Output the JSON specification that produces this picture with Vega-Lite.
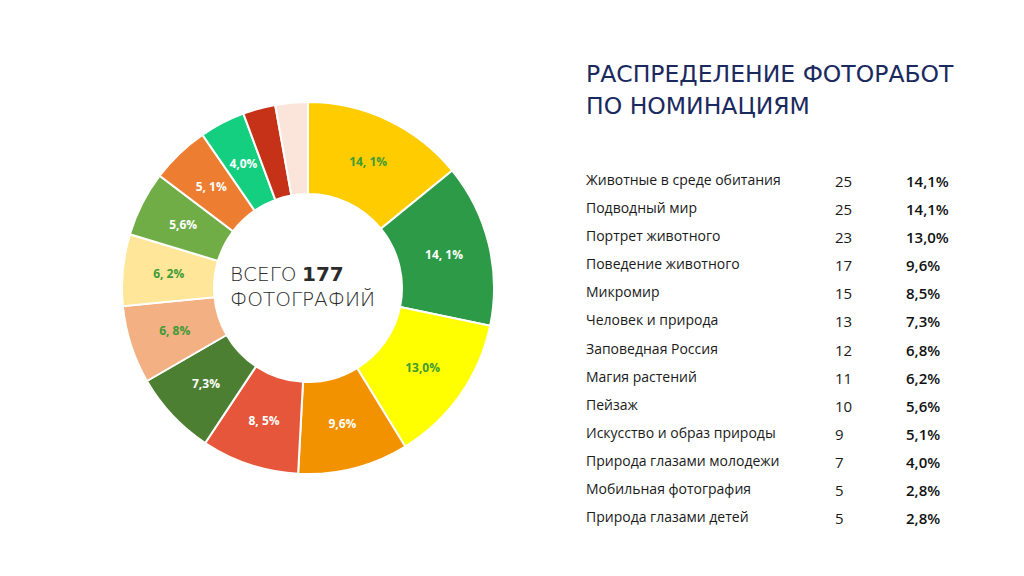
{
  "$schema": "https://vega.github.io/schema/vega-lite/v6.json",
  "description": "Распределение фоторабот по номинациям: кольцевая диаграмма и таблица",
  "padding": 0,
  "spacing": 0,
  "bounds": "flush",
  "background": "white",
  "config": {"view": {"stroke": null}},
  "datasets": {
    "nominations": [
      {"idx": 1, "name": "Животные в среде обитания", "count": 25, "pct": "14,1%", "label": "14, 1%"},
      {"idx": 2, "name": "Подводный мир", "count": 25, "pct": "14,1%", "label": "14, 1%"},
      {"idx": 3, "name": "Портрет животного", "count": 23, "pct": "13,0%", "label": "13,0%"},
      {"idx": 4, "name": "Поведение животного", "count": 17, "pct": "9,6%", "label": "9,6%"},
      {"idx": 5, "name": "Микромир", "count": 15, "pct": "8,5%", "label": "8, 5%"},
      {"idx": 6, "name": "Человек и природа", "count": 13, "pct": "7,3%", "label": "7,3%"},
      {"idx": 7, "name": "Заповедная Россия", "count": 12, "pct": "6,8%", "label": "6, 8%"},
      {"idx": 8, "name": "Магия растений", "count": 11, "pct": "6,2%", "label": "6, 2%"},
      {"idx": 9, "name": "Пейзаж", "count": 10, "pct": "5,6%", "label": "5,6%"},
      {"idx": 10, "name": "Искусство и образ природы", "count": 9, "pct": "5,1%", "label": "5, 1%"},
      {"idx": 11, "name": "Природа глазами молодежи", "count": 7, "pct": "4,0%", "label": "4,0%"},
      {"idx": 12, "name": "Мобильная фотография", "count": 5, "pct": "2,8%", "label": ""},
      {"idx": 13, "name": "Природа глазами детей", "count": 5, "pct": "2,8%", "label": ""}
    ]
  },
  "hconcat": [
    {
      "width": 616,
      "height": 576,
      "data": {"name": "nominations"},
      "layer": [
        {
          "mark": {"type": "arc", "outerRadius": 186, "innerRadius": 94, "stroke": "white", "strokeWidth": 2},
          "encoding": {
            "theta": {"field": "count", "type": "quantitative", "stack": true},
            "order": {"field": "idx", "type": "quantitative", "sort": "ascending"},
            "color": {
              "field": "name",
              "type": "nominal",
              "legend": null,
              "scale": {
                "domain": ["Животные в среде обитания", "Подводный мир", "Портрет животного", "Поведение животного", "Микромир", "Человек и природа", "Заповедная Россия", "Магия растений", "Пейзаж", "Искусство и образ природы", "Природа глазами молодежи", "Мобильная фотография", "Природа глазами детей"],
                "range": ["#FFCC00", "#2C9A46", "#FFFF00", "#F39200", "#E6563B", "#4D7F32", "#F2B083", "#FFE699", "#70AD47", "#ED7D31", "#14CF80", "#C63217", "#FBE4D9"]
              }
            }
          }
        },
        {
          "mark": {"type": "text", "radius": 140, "font": "Open Sans", "fontSize": 12, "fontWeight": "bold"},
          "encoding": {
            "theta": {"field": "count", "type": "quantitative", "stack": true},
            "order": {"field": "idx", "type": "quantitative", "sort": "ascending"},
            "text": {"field": "label"},
            "color": {
              "condition": {
                "test": "indexof(['Животные в среде обитания', 'Портрет животного', 'Заповедная Россия', 'Магия растений'], datum.name) >= 0",
                "value": "#3E9B35"
              },
              "value": "white"
            }
          }
        },
        {
          "transform": [{"aggregate": [{"op": "sum", "field": "count", "as": "total"}]}],
          "layer": [
            {
              "mark": {"type": "text", "text": "ВСЕГО", "align": "left", "baseline": "alphabetic", "dx": -78, "dy": -7, "font": "DejaVu Sans", "fontSize": 20, "fontWeight": 300, "color": "#2b2b2b"},
              "encoding": {}
            },
            {
              "mark": {"type": "text", "align": "left", "baseline": "alphabetic", "dx": -6, "dy": -7, "font": "DejaVu Sans", "fontSize": 20, "fontWeight": "bold", "color": "#2b2b2b"},
              "encoding": {"text": {"field": "total", "type": "quantitative"}}
            },
            {
              "mark": {"type": "text", "text": "ФОТОГРАФИЙ", "align": "left", "baseline": "alphabetic", "dx": -78, "dy": 18, "font": "DejaVu Sans", "fontSize": 20, "fontWeight": 300, "color": "#2b2b2b"},
              "encoding": {}
            }
          ]
        }
      ]
    },
    {
      "width": 408,
      "height": 576,
      "data": {"name": "nominations"},
      "title": {
        "text": ["РАСПРЕДЕЛЕНИЕ ФОТОРАБОТ", "ПО НОМИНАЦИЯМ"],
        "orient": "top",
        "anchor": "start",
        "frame": "group",
        "baseline": "alphabetic",
        "offset": 0,
        "dx": -30,
        "dy": 137,
        "font": "DejaVu Sans",
        "fontSize": 23.5,
        "fontWeight": "normal",
        "lineHeight": 31.5,
        "color": "#1B2A5E"
      },
      "encoding": {
        "y": {
          "field": "name",
          "type": "nominal",
          "sort": {"field": "idx", "op": "min"},
          "axis": null,
          "scale": {"type": "point", "range": [185, 522], "padding": 0}
        }
      },
      "layer": [
        {
          "mark": {"type": "text", "align": "left", "baseline": "alphabetic", "font": "Open Sans", "fontSize": 14, "color": "#1a1a1a"},
          "encoding": {
            "x": {"value": -30},
            "text": {"field": "name"}
          }
        },
        {
          "mark": {"type": "text", "align": "left", "baseline": "alphabetic", "dy": 2, "font": "Open Sans", "fontSize": 15, "color": "#1a1a1a"},
          "encoding": {
            "x": {"value": 219},
            "text": {"field": "count", "type": "quantitative"}
          }
        },
        {
          "mark": {"type": "text", "align": "left", "baseline": "alphabetic", "dy": 2, "font": "Open Sans", "fontSize": 15, "fontWeight": 600, "color": "#111111"},
          "encoding": {
            "x": {"value": 290},
            "text": {"field": "pct"}
          }
        }
      ]
    }
  ]
}
